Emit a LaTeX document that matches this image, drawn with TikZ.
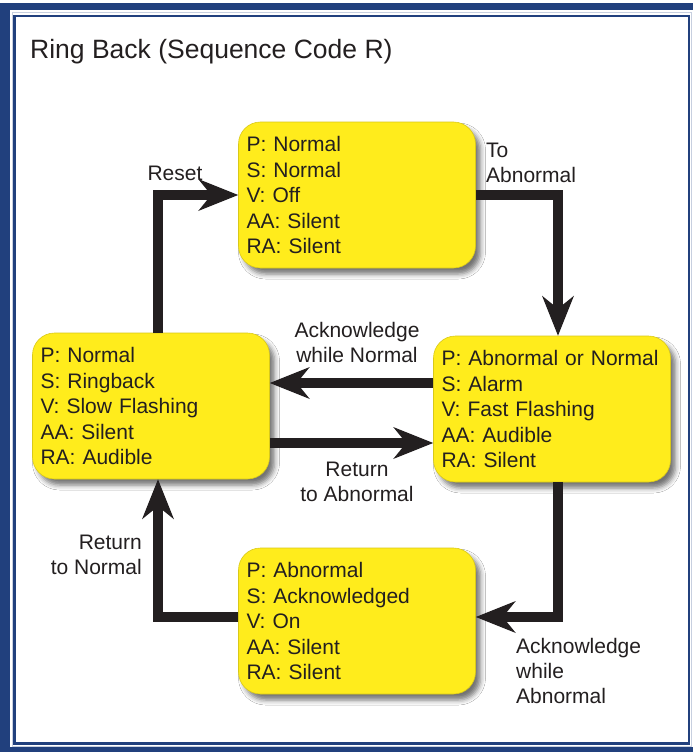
\documentclass[tikz,border=0pt]{standalone}
\usepackage{fontspec}
\setmainfont{Liberation Sans}
\usetikzlibrary{arrows.meta,shadows.blur}
\definecolor{frameblue}{RGB}{33,64,125}
\definecolor{stateyellow}{RGB}{255,236,28}
\definecolor{ink}{RGB}{35,31,32}
\tikzset{
  state/.style={rounded corners=22pt, fill=stateyellow, draw=stateyellow!85!black,
    line width=0.6pt, text width=221pt, inner xsep=8pt, minimum height=146pt,
    align=left, text=ink, font=\fontsize{21}{25.5}\selectfont,
    blur shadow={shadow xshift=5pt, shadow yshift=-6pt, shadow blur radius=5pt, shadow opacity=55}},
  flow/.style={ink, line width=10pt, -{Stealth[length=40pt,width=32pt,inset=13pt,line width=0pt]}},
  lbl/.style={inner sep=0pt, text=ink, font=\fontsize{21}{25}\selectfont}
}
\begin{document}
\begin{tikzpicture}[x=1pt,y=-1pt]
\useasboundingbox (0,0) rectangle (693,752);
\fill[frameblue] (0,3) rectangle (693,752);
\fill[white] (10,10) rectangle (693,747);
\draw[frameblue!25, line width=1pt] (12,13) rectangle (691,746);
\draw[frameblue, line width=2.5pt] (14.5,16) rectangle (689,743.5);
\node[lbl, font=\fontsize{26.5}{30}\selectfont, anchor=west] (title) at (30,52) {Ring Back (Sequence Code R)};

\node[state] (normal) at (357,195) {P: Normal\\S: Normal\\V: Off\\AA: Silent\\RA: Silent};
\node[state] (alarm) at (552,409) {P: Abnormal or Normal\\S: Alarm\\V: Fast Flashing\\AA: Audible\\RA: Silent};
\node[state] (ringback) at (151,406) {P: Normal\\S: Ringback\\V: Slow Flashing\\AA: Silent\\RA: Audible};
\node[state] (ack) at (357,621) {P: Abnormal\\S: Acknowledged\\V: On\\AA: Silent\\RA: Silent};

\draw[flow] ([xshift=7pt]ringback.north) |- (normal.west);
\draw[flow] (normal.east) -| ([xshift=6pt]alarm.north);
\draw[flow] ([yshift=26pt]alarm.west) -- ([yshift=26pt]alarm.west -| ringback.east);
\draw[flow] ([yshift=-37pt]ringback.east) -- ([yshift=-37pt]ringback.east -| alarm.west);
\draw[flow] ([xshift=6pt]alarm.south) |- ([yshift=4pt]ack.east);
\draw[flow] ([yshift=4pt]ack.west) -| ([xshift=7pt]ringback.south);

\node[lbl] (reset) at (175,173) {Reset};
\node[lbl, align=left, anchor=west] (toabn) at (486,163) {To\\Abnormal};
\node[lbl, align=center] (acknorm) at (357,342) {Acknowledge\\while Normal};
\node[lbl, align=center] (retabn) at (357,482) {Return\\to Abnormal};
\node[lbl, align=right, anchor=east] (retnorm) at (142,555) {Return\\to Normal};
\node[lbl, align=left, anchor=west] (ackabn) at (516,671) {Acknowledge\\while\\Abnormal};
\end{tikzpicture}
\end{document}
